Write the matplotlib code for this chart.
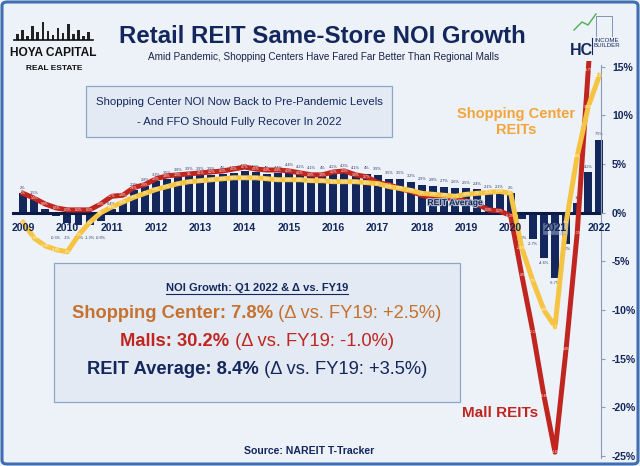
"""Retail REIT same-store NOI growth: bars for the REIT average, lines for malls and shopping centers."""

import matplotlib

matplotlib.use("Agg")

import numpy as np
from matplotlib import patheffects
from matplotlib import pyplot as plt
from matplotlib.lines import Line2D
from matplotlib.patches import FancyBboxPatch, Rectangle

# quarterly series, 2009 Q1 .. 2022 Q1 (53 quarters), values in %
reit_avg = [
    2.0, 1.5, 0.4, -0.3, -1.0, -1.3, -1.3, -0.8, 0.4, 1.2, 2.3, 2.8,
    3.3, 3.5, 3.8, 3.9, 3.9, 3.9, 4.0, 4.1, 4.3, 4.2, 4.0, 4.1,
    4.4, 4.2, 4.1, 4.0, 4.2, 4.3, 4.1, 4.0, 3.9, 3.5, 3.5, 3.2,
    2.9, 2.8, 2.7, 2.6, 2.5, 2.4, 2.1, 2.1, 2.0, -0.6, -2.7, -4.6,
    -6.7, -3.2, 1.0, 4.2, 7.5,
]
mall = [
    2.0, 1.5, 0.9, 0.5, 0.3, 0.3, 0.3, 0.9, 1.7, 1.8, 2.6, 2.9,
    3.5, 3.8, 3.9, 4.0, 4.1, 4.2, 4.3, 4.5, 4.7, 4.5, 4.4, 4.4,
    4.3, 4.1, 3.9, 3.9, 4.2, 4.3, 3.9, 3.7, 3.1, 2.9, 2.5, 2.2,
    1.8, 1.5, 1.6, 1.4, 1.2, 0.9, 0.3, 0.2, -0.3, -6.4, -12.2, -18.8,
    -24.6, -14.0, -2.1, 14.7, 30.2,
]
shopping = [
    -1.0, -2.6, -3.4, -3.8, -4.0, -2.3, -1.0, 0.0, 0.6, 1.1, 1.6, 2.0,
    2.4, 2.7, 3.0, 3.2, 3.3, 3.4, 3.5, 3.6, 3.6, 3.6, 3.5, 3.4,
    3.4, 3.4, 3.3, 3.3, 3.2, 3.2, 3.2, 3.1, 3.0, 2.7, 2.5, 2.3,
    2.0, 1.9, 1.8, 1.7, 1.9, 2.0, 2.1, 2.2, 2.0, -3.6, -7.0, -10.0,
    -11.7, -1.0, 5.8, 10.9, 14.1,
]
year_labels = ["2009", "2010", "2011", "2012", "2013", "2014", "2015",
               "2016", "2017", "2018", "2019", "2020", "2021", "2022"]
y_ticks = [15, 10, 5, 0, -5, -10, -15, -20, -25]

# rough skyline for the logo (pixel heights of the little towers)
skyline_heights = [6, 10, 4, 14, 8, 18, 9, 5, 12, 7, 16, 6, 10, 4, 8]

BG = "#edf2f8"
NAVY = "#14275c"
RED = "#c0261f"
YELLOW = "#f5c443"
ORANGE = "#f3a43b"
SC_TEXT = "#c5712f"
BOX_BG = "#e3eaf4"
BOX_EDGE = "#8ea6c8"
BORDER = "#3f6fb2"

plt.rcParams["font.family"] = ["Liberation Sans", "DejaVu Sans"]

W, H = 640, 466


def fx(px):
    return px / W


def fy(py):
    return 1 - py / H


def pct(v):
    return f"{v:.1f}%".replace(".0%", "%")


fig = plt.figure(figsize=(W / 100, H / 100), dpi=100)
fig.patch.set_facecolor(BG)
fig.patches.append(FancyBboxPatch(
    (fx(2), fy(464)), fx(638) - fx(2), fy(2) - fy(464),
    boxstyle="round,pad=0,rounding_size=0.008", transform=fig.transFigure,
    fill=False, edgecolor=BORDER, linewidth=2.2))

# ---- main axes ----
ax = fig.add_axes([fx(12), fy(459), fx(601) - fx(12), fy(61) - fy(459)])
ax.set_facecolor("none")
x = np.arange(len(reit_avg))
ax.set_xlim(-1.0, 52.15)
ax.set_ylim(-25.3, 15.6)

ax.bar(x, reit_avg, width=0.72, color=NAVY, zorder=2, clip_on=False)
ax.axhline(0, color="#0b1a44", linewidth=2.2, zorder=2.4)
for xi, v in zip(x, reit_avg):
    if v >= 0:
        ax.text(xi, v + 0.35, pct(v), ha="center", va="bottom", fontsize=2.8,
                color="#2a3a6a", zorder=2.2)
    else:
        ax.text(xi, min(v - 0.35, -2.4), pct(v), ha="center", va="top", fontsize=2.8,
                color="#2a3a6a", zorder=2.2)

ax.plot(x, mall, color=RED, linewidth=3.6, solid_joinstyle="round", zorder=3)
ax.plot(x, shopping, color=YELLOW, linewidth=3.6, solid_joinstyle="round", zorder=3.5)
# mall labels under the "REIT Average" tag are covered in the original
covered = range(37, 42)
for xi, v in zip(x, mall):
    if v < 15.3 and xi not in covered:
        ax.text(xi, v, pct(v), ha="center", va="center", fontsize=2.4, color="white", zorder=3.2)
for xi, v in zip(x, shopping):
    ax.text(xi, v, pct(v), ha="center", va="center", fontsize=2.4, color="white", zorder=3.7)

for k, label in enumerate(year_labels):
    t = ax.text(4 * k, -1.6, label, ha="center", va="center", fontsize=7.6,
                fontweight="bold", color=NAVY, zorder=4)
    if label == "2021":
        t.set_bbox(dict(facecolor="#b9c5dd", alpha=0.45, edgecolor="#8ea6c8",
                        linewidth=0.5, pad=0.6))

avg_tag = ax.text(39, 1.05, "REIT Average", ha="center", va="center", fontsize=6.2,
                  fontweight="bold", color="#1c2750", zorder=4)
avg_tag.set_path_effects([patheffects.withStroke(linewidth=1.6, foreground="#aebbd6")])
ax.text(44.5, 9.3, "Shopping Center\nREITs", ha="center", va="center", fontsize=10.5,
        fontweight="bold", color=ORANGE, linespacing=1.15, zorder=4)
ax.text(43.0, -20.6, "Mall REITs", ha="center", va="center", fontsize=11,
        fontweight="bold", color=RED, zorder=4)

for side in ("left", "top", "bottom"):
    ax.spines[side].set_visible(False)
ax.spines["right"].set_color("#8a9bb5")
ax.spines["right"].set_bounds(-25.2, 15.2)
ax.set_xticks([])
ax.yaxis.tick_right()
ax.set_yticks(y_ticks)
ax.set_yticklabels([f"{t}%" for t in y_ticks])
ax.tick_params(axis="y", direction="out", length=3, color="#8a9bb5", pad=5,
               labelsize=7.6, labelcolor=NAVY)
for lab in ax.get_yticklabels():
    lab.set_fontweight("bold")

# ---- header ----
fig.text(fx(322), fy(43), "Retail REIT Same-Store NOI Growth", ha="center", va="baseline",
         fontsize=17.3, fontweight="bold", color=NAVY)
fig.text(fx(323), fy(60), "Amid Pandemic, Shopping Centers Have Fared Far Better Than Regional Malls",
         ha="center", va="baseline", fontsize=7.2, color="#1b2448")

# logo: skyline + name
fig.add_artist(Line2D([fx(14), fx(93)], [fy(40), fy(40)], color="#111111", linewidth=1.2))
for k, h in enumerate(skyline_heights):
    left = 16 + k * 5.1
    fig.patches.append(Rectangle((fx(left), fy(40)), fx(2.6), fy(40 - h) - fy(40),
                                 transform=fig.transFigure, facecolor="#222222",
                                 edgecolor="none"))
fig.text(fx(53), fy(56), "HOYA CAPITAL", ha="center", va="baseline", fontsize=8.6,
         fontweight="bold", color="#111111")
fig.text(fx(54), fy(70), "REAL ESTATE", ha="center", va="baseline", fontsize=6,
         fontweight="bold", color="#111111")

fig.text(fx(581), fy(55), "HC", ha="center", va="baseline", fontsize=11.5,
         fontweight="bold", color=NAVY)
fig.text(fx(594), fy(47), "INCOME\nBUILDER", ha="left", va="baseline", fontsize=4.4,
         color=NAVY, linespacing=1.1)
fig.add_artist(Line2D([fx(591.5), fx(591.5)], [fy(54), fy(38)], color=NAVY, linewidth=0.8))
fig.add_artist(Line2D([fx(574), fx(582), fx(588), fx(596)], [fy(30), fy(22), fy(25), fy(14)],
                      color="#4caf50", linewidth=1.0))
fig.add_artist(Line2D([fx(596), fx(596), fx(612), fx(612)], [fy(36), fy(16), fy(16), fy(36)],
                      color="#6f86b0", linewidth=0.6))

# ---- callout box ----
fig.patches.append(FancyBboxPatch(
    (fx(86), fy(137)), fx(392) - fx(86), fy(86) - fy(137),
    boxstyle="square,pad=0", transform=fig.transFigure,
    facecolor=BOX_BG, edgecolor=BOX_EDGE, linewidth=0.9))
fig.text(fx(239), fy(105), "Shopping Center NOI Now Back to Pre-Pandemic Levels",
         ha="center", va="baseline", fontsize=8.2, color=NAVY)
fig.text(fx(239), fy(125), "- And FFO Should Fully Recover In 2022",
         ha="center", va="baseline", fontsize=8.2, color=NAVY)

# ---- summary box ----
fig.patches.append(FancyBboxPatch(
    (fx(54), fy(402)), fx(460) - fx(54), fy(263) - fy(402),
    boxstyle="square,pad=0", transform=fig.transFigure,
    facecolor=BOX_BG, edgecolor=BOX_EDGE, linewidth=0.9))

renderer = fig.canvas.get_renderer()


def centered_line(segments, x_center, y_base):
    texts = [fig.text(0, fy(y_base), s, ha="left", va="baseline", **kw) for s, kw in segments]
    widths = [t.get_window_extent(renderer).width for t in texts]
    cur = x_center - sum(widths) / 2
    for t, w in zip(texts, widths):
        t.set_x(fx(cur))
        cur += w
    return texts


head = fig.text(fx(257), fy(291), "NOI Growth: Q1 2022 & \u0394 vs. FY19", ha="center",
                va="baseline", fontsize=8, fontweight="bold", color=NAVY)
bb = head.get_window_extent(renderer)
fig.add_artist(Line2D([bb.x0 / W, bb.x1 / W], [fy(293.5), fy(293.5)], color=NAVY, linewidth=0.8))

big = 13.2
centered_line([("Shopping Center: 7.8%", dict(fontsize=big, fontweight="bold", color=SC_TEXT)),
               (" (\u0394 vs. FY19: +2.5%)", dict(fontsize=big, color=SC_TEXT))], 257, 318)
centered_line([("Malls: 30.2%", dict(fontsize=big, fontweight="bold", color=RED)),
               (" (\u0394 vs. FY19: -1.0%)", dict(fontsize=big, color=RED))], 257, 346)
centered_line([("REIT Average: 8.4%", dict(fontsize=big, fontweight="bold", color=NAVY)),
               (" (\u0394 vs. FY19: +3.5%)", dict(fontsize=big, color=NAVY))], 257, 374)

fig.text(fx(309), fy(454), "Source: NAREIT T-Tracker", ha="center", va="baseline",
         fontsize=7.6, fontweight="bold", color=NAVY)

fig.savefig("out.png", dpi=100, facecolor=BG)
